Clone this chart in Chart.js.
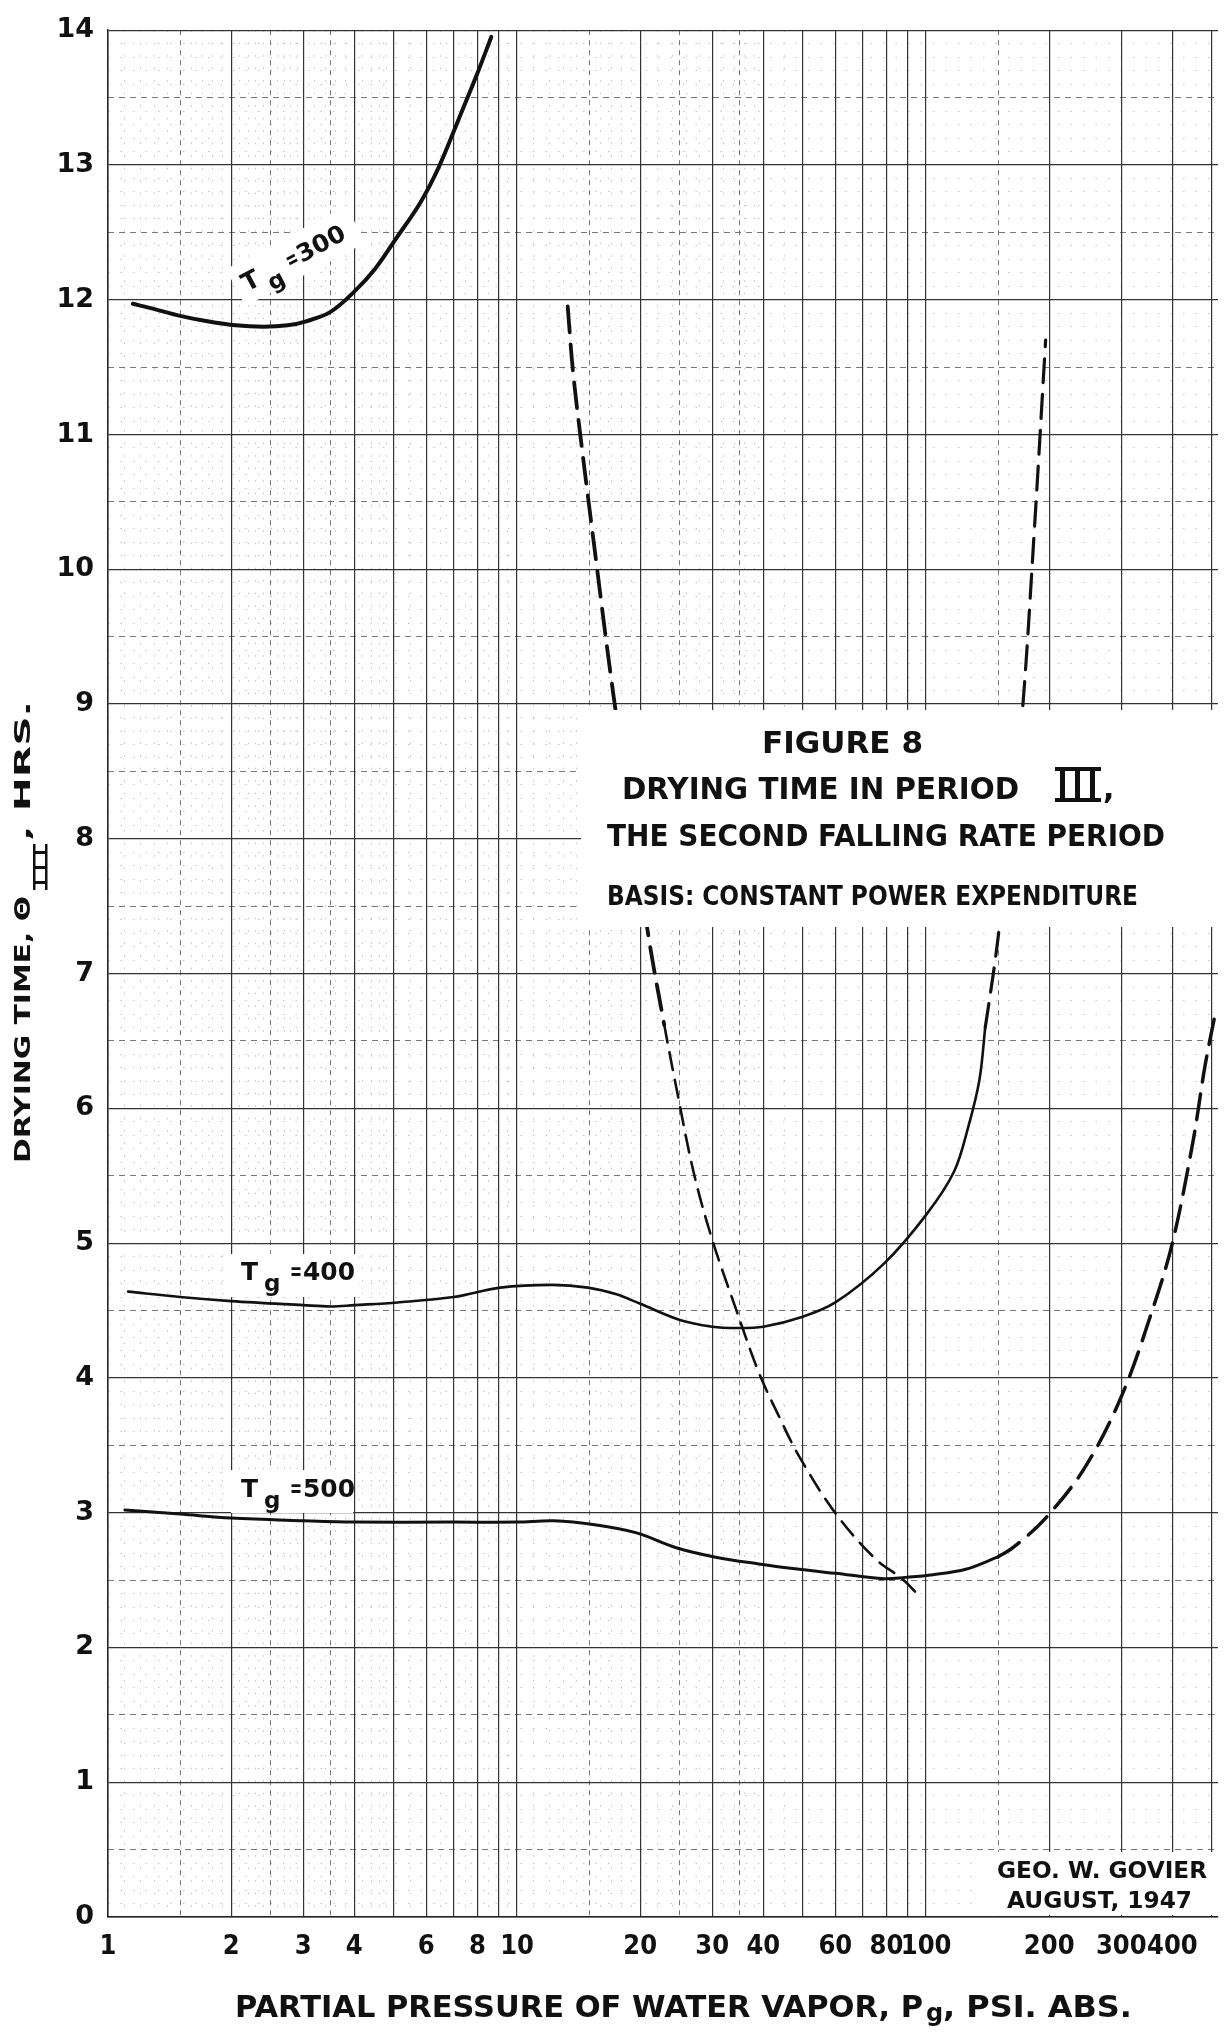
<!DOCTYPE html>
<html>
<head>
<meta charset="utf-8">
<title>Figure 8 - Drying time in period III</title>
<script src="https://cdn.jsdelivr.net/npm/chart.js@4.4.1/dist/chart.umd.min.js"></script>
<style>
    html, body { margin: 0; padding: 0; background: #fff; }
    #wrap { position: relative; width: 1226px; height: 2035px; }
</style>
</head>
<body>
<div id="wrap"><canvas id="dryingChart"></canvas></div>
<script>
// partial pressure Pg (psi abs) and drying time (hrs)
const tg300P = [1.15, 1.3, 1.5, 1.75, 2.05, 2.4, 2.75, 3.05, 3.5, 4.0, 4.5, 5.05, 5.8, 6.45, 7.2, 8.0, 8.65];
const tg300T = [11.97, 11.93, 11.88, 11.84, 11.81, 11.80, 11.81, 11.84, 11.91, 12.06, 12.23, 12.45, 12.72, 12.99, 13.34, 13.68, 13.95];

const tg400P = [1.12, 1.5, 2.0, 3.0, 3.5, 4.0, 5.1, 7.0, 9.1, 12.2, 14.9, 17.5, 20, 25, 30, 34.3, 40, 49.5, 60, 79, 100, 117, 127, 135, 139.5];
const tg400T = [4.64, 4.60, 4.57, 4.54, 4.53, 4.54, 4.56, 4.60, 4.67, 4.69, 4.67, 4.62, 4.55, 4.43, 4.38, 4.37, 4.38, 4.45, 4.56, 4.85, 5.21, 5.53, 5.87, 6.21, 6.60];
const tg400ExtP = [139.5, 146, 151, 160, 172, 184, 196];
const tg400ExtT = [6.60, 7.0, 7.34, 8.0, 8.95, 10.3, 11.7];

const tg500P = [1.1, 1.5, 2.0, 3.0, 4.0, 7.0, 10, 12.3, 15.5, 19.6, 24.5, 30.6, 39, 49, 60, 79, 89, 104, 125, 149.5];
const tg500T = [3.02, 2.99, 2.96, 2.94, 2.93, 2.93, 2.93, 2.94, 2.91, 2.85, 2.74, 2.67, 2.62, 2.58, 2.55, 2.51, 2.52, 2.54, 2.58, 2.67];
const tg500ExtP = [149.5, 163, 196, 245, 301, 358, 400, 449, 481, 509];
const tg500ExtT = [2.67, 2.74, 2.96, 3.34, 3.87, 4.51, 5.0, 5.75, 6.32, 6.70];

// dashed crossing curve
const crossP = [13.3, 13.7, 14.3, 15.4, 17.2, 20.9, 22.9, 24.6, 27.0, 29.9, 34.3, 39, 43.6, 48.9, 59.9, 75, 87.3, 95];
const crossT = [11.95, 11.47, 10.98, 10.2, 9.07, 7.30, 6.62, 6.13, 5.53, 5.04, 4.51, 4.04, 3.72, 3.42, 3.0, 2.66, 2.51, 2.40];

// axes
const xGridMain = [1, 2, 3, 4, 5, 6, 7, 8, 9, 10, 20, 30, 40, 50, 60, 70, 80, 90, 100, 200, 300, 400, 500];
const xTickLabels = [1, 2, 3, 4, 6, 8, 10, 20, 30, 40, 60, 80, 100, 200, 300, 400];
const xGridHalf = [1.5, 2.5, 3.5, 15, 25, 35, 150];
const xGridFine = [1.1, 1.2, 1.3, 1.4, 1.6, 1.7, 1.8, 1.9, 2.1, 2.2, 2.3, 2.4, 2.6, 2.7, 2.8, 2.9, 3.2, 3.4, 3.6, 3.8, 4.2, 4.4, 4.6, 4.8, 5.5, 6.5, 7.5, 8.5, 9.5,
    11, 12, 13, 14, 16, 17, 18, 19, 22, 24, 26, 28, 32, 34, 36, 38, 45];
const yTicks = [0, 1, 2, 3, 4, 5, 6, 7, 8, 9, 10, 11, 12, 13, 14];

const X_MIN = 1, X_MAX = 517;

const yGridHalf = yTicks.slice(0, -1).map(v => v + 0.5);
const yGridFine = [];
for (let i = 1; i < 140; i++) {
    if (i % 5 !== 0) yGridFine.push(i / 10);
}

const pts = (xs, ys) => xs.map((x, i) => ({ x: x, y: ys[i] }));

const fontBold = '"DejaVu Sans", Verdana, sans-serif';
const fontNarrow = '"Liberation Sans Narrow", "DejaVu Sans Condensed", "DejaVu Sans", sans-serif';

function gridOnly(axis, values, color, dash, z) {
    return {
        type: axis === 'x' ? 'logarithmic' : 'linear',
        axis: axis,
        position: axis === 'x' ? 'bottom' : 'left',
        min: axis === 'x' ? X_MIN : 0,
        max: axis === 'x' ? X_MAX : 14,
        ticks: { display: false },
        grid: { color: color, lineWidth: 1, drawTicks: false, z: z },
        border: { display: false, dash: dash },
        afterBuildTicks: s => { s.ticks = values.map(v => ({ value: v })); },
        afterFit: s => { if (axis === 'x') s.height = 0; else s.width = 0; }
    };
}

// text squeezed/stretched to the width it has on the sheet
function fitText(ctx, text, x, y, w) {
    const m = ctx.measureText(text).width;
    ctx.save();
    ctx.translate(x, y);
    ctx.scale(w / m, 1);
    ctx.fillText(text, 0, 0);
    ctx.restore();
}

function tgLabel(ctx, x, y, num) {
    ctx.font = 'bold 25px ' + fontBold;
    ctx.fillText('T', x, y);
    ctx.font = 'bold 23px ' + fontBold;
    ctx.fillText('g', x + 23, y + 11);
    ctx.font = 'bold 24px ' + fontBold;
    fitText(ctx, '=', x + 49, y, 12);
    fitText(ctx, num, x + 62, y, 52);
}

const notes = {
    id: 'notes',
    beforeDatasetsDraw(chart) {
        const ctx = chart.ctx;
        ctx.save();
        ctx.fillStyle = '#fff';
        ctx.fillRect(231, 1254, 128, 43);
        ctx.fillRect(231, 1470, 122, 43);
        ctx.fillRect(983, 1852, 243, 63);
        ctx.translate(247, 292);
        ctx.rotate(-28 * Math.PI / 180);
        ctx.fillRect(-8, -30, 136, 42);
        ctx.restore();
    },
    afterDatasetsDraw(chart) {
        const ctx = chart.ctx;
        ctx.save();
        // title block covers the dashed curves
        ctx.fillStyle = '#fff';
        ctx.fillRect(581, 710, 645, 217);
        ctx.fillStyle = '#111';
        ctx.textBaseline = 'alphabetic';

        ctx.font = 'bold 31px ' + fontBold;
        fitText(ctx, 'FIGURE 8', 762, 753, 161);
        ctx.font = 'bold 30px ' + fontBold;
        fitText(ctx, 'DRYING TIME IN PERIOD', 622, 799, 397);
        // roman III with bars
        ctx.fillRect(1055, 767, 46, 4);
        ctx.fillRect(1055, 798, 46, 4);
        ctx.fillRect(1060, 767, 5, 34);
        ctx.fillRect(1075, 767, 5, 34);
        ctx.fillRect(1090, 767, 5, 34);
        ctx.fillText(',', 1103, 799);
        fitText(ctx, 'THE SECOND FALLING RATE PERIOD', 607, 846, 558);
        ctx.font = 'bold 27px ' + fontBold;
        fitText(ctx, 'BASIS: CONSTANT POWER EXPENDITURE', 607, 905, 531);

        ctx.font = 'bold 23px ' + fontBold;
        fitText(ctx, 'GEO. W. GOVIER', 997, 1878, 210);
        fitText(ctx, 'AUGUST, 1947', 1007, 1908, 185);

        // curve labels
        tgLabel(ctx, 241, 1280, '400');
        tgLabel(ctx, 241, 1497, '500');
        ctx.save();
        ctx.translate(247, 292);
        ctx.rotate(-28 * Math.PI / 180);
        tgLabel(ctx, 0, 0, '300');
        ctx.restore();

        ctx.restore();
    },
    afterDraw(chart) {
        const ctx = chart.ctx;
        ctx.save();
        ctx.fillStyle = '#111';
        ctx.textBaseline = 'alphabetic';

        // x axis title
        ctx.font = 'bold 30px ' + fontBold;
        fitText(ctx, 'PARTIAL PRESSURE OF WATER VAPOR, P', 235, 2017, 688);
        ctx.font = 'bold 24px ' + fontBold;
        ctx.fillText('g', 926, 2021);
        ctx.font = 'bold 30px ' + fontBold;
        fitText(ctx, ', PSI. ABS.', 943, 2017, 189);

        // y axis title, reading upwards
        ctx.translate(30, 1163);
        ctx.rotate(-Math.PI / 2);
        ctx.font = 'bold 21px ' + fontBold;
        fitText(ctx, 'DRYING TIME, \u0398', 0, 0, 267);
        ctx.fillRect(273, 3, 46, 2.5);
        ctx.fillRect(273, 15, 46, 2.5);
        ctx.fillRect(279, 3, 3, 14);
        ctx.fillRect(294, 3, 3, 14);
        ctx.fillRect(309, 3, 3, 14);
        fitText(ctx, ', HRS.', 322, 0, 140);
        ctx.restore();
    }
};

const ctx = document.getElementById('dryingChart').getContext('2d');
new Chart(ctx, {
    type: 'line',
    data: {
        datasets: [
            { label: 'Tg = 300', data: pts(tg300P, tg300T), borderWidth: 4 },
            { label: 'Tg = 400', data: pts(tg400P, tg400T), borderWidth: 2.6 },
            { label: 'Tg = 400 (extension)', data: pts(tg400ExtP, tg400ExtT), borderWidth: 3.2, borderDash: [24, 12] },
            { label: 'Tg = 500', data: pts(tg500P, tg500T), borderWidth: 3 },
            { label: 'Tg = 500 (extension)', data: pts(tg500ExtP, tg500ExtT), borderWidth: 3.5, borderDash: [26, 12] },
            {
                label: 'Locus',
                data: pts(crossP, crossT),
                borderWidth: 2.6,
                borderDash: [18, 10],
                // upper dashes are drawn heavier on the sheet
                segment: {
                    borderWidth: c => c.p0.parsed.y > 7 ? 3.8 : 2.6,
                    borderDash: c => c.p0.parsed.y > 7 ? [26, 12] : [18, 10]
                }
            }
        ].map(d => Object.assign({
            xAxisID: 'x',
            yAxisID: 'y',
            borderColor: '#111',
            pointRadius: 0,
            fill: false,
            tension: 0.35,
            borderCapStyle: 'round'
        }, d))
    },
    options: {
        responsive: true,
        maintainAspectRatio: false,
        animation: false,
        layout: { padding: { top: 23, right: 0, left: 0, bottom: 0 } },
        plugins: { legend: { display: false }, tooltip: { enabled: false }, title: { display: false } },
        scales: {
            x: {
                type: 'logarithmic',
                position: 'bottom',
                min: X_MIN,
                max: X_MAX,
                afterBuildTicks: s => { s.ticks = xGridMain.map(v => ({ value: v })); },
                afterFit: s => { s.height = 118; },
                ticks: {
                    autoSkip: false,
                    maxRotation: 0,
                    padding: 14,
                    color: '#111',
                    font: { family: fontNarrow, size: 27, weight: 'bold' },
                    callback: v => xTickLabels.includes(v) ? String(v) : ''
                },
                grid: { color: '#333', lineWidth: 1.2, drawTicks: false },
                border: { display: true, color: '#222', width: 1.5 }
            },
            y: {
                type: 'linear',
                position: 'left',
                min: 0,
                max: 14,
                afterBuildTicks: s => { s.ticks = yTicks.map(v => ({ value: v })); },
                afterFit: s => { s.width = 108; },
                ticks: {
                    padding: 14,
                    color: '#111',
                    font: { family: fontBold, size: 27, weight: 'bold' },
                    callback: v => String(v)
                },
                grid: { color: '#333', lineWidth: 1.2, drawTicks: false },
                border: { display: true, color: '#222', width: 1.5 }
            },
            xHalf: gridOnly('x', xGridHalf, '#777', [5, 5], -2),
            xFine: gridOnly('x', xGridFine, '#c2c2c2', [1.5, 11], -3),
            yHalf: gridOnly('y', yGridHalf, '#777', [6, 5], -2),
            yFine: gridOnly('y', yGridFine, '#c2c2c2', [1.5, 11], -3)
        }
    },
    plugins: [notes]
});
</script>
</body>
</html>
